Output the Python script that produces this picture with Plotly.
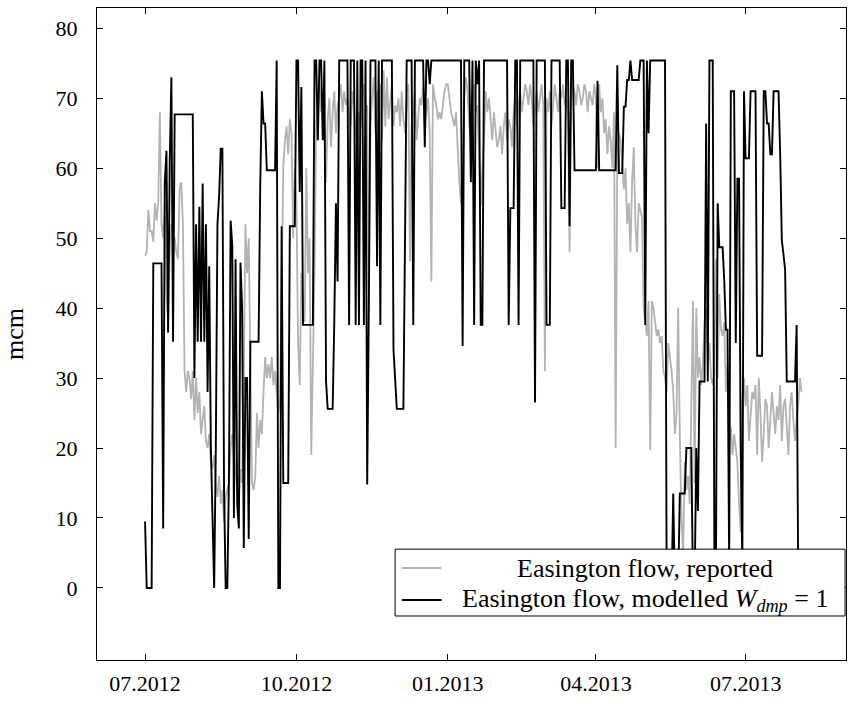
import plotly.graph_objects as go
import pandas as pd

# ---------------- data (daily values, mcm) ----------------
# Easington flow, reported
r_2012_07 = [47.5, 48, 54, 51, 51, 49.5, 55, 52.5, 55, 68, 52, 50, 55, 42, 38, 48, 52, 50, 50, 48, 47, 57, 58, 52, 31, 28, 31, 30, 27, 31, 24]
r_2012_08 = [30, 25, 28, 22, 24, 26, 21, 20, 22, 18, 17, 19, 15, 13, 16, 12, 14, 9.5, 13, 14, 15, 20, 22, 19, 16, 14, 12, 17, 15, 30, 52]
r_2012_09 = [45, 50, 35, 15, 14, 16, 25, 20, 24, 22, 28, 33, 30, 32, 30, 33, 29, 31, 28, 25, 27, 45, 60, 64, 66, 62, 67, 65, 50, 60]
r_2012_10 = [55, 35, 29, 45, 40, 38, 60, 45, 50, 19, 30, 45, 66, 70, 72, 68, 71, 66, 58, 67, 70, 63, 68, 71, 65, 69, 70, 72, 68, 71, 69]
r_2012_11 = [70, 68, 66, 71, 69, 65, 64, 68, 66, 70, 72, 68, 69, 42, 66, 70, 73, 65, 71, 68, 72, 64, 74, 66, 73, 67, 70, 72, 66, 69]
r_2012_12 = [68, 70, 66, 71, 67, 65, 69, 72, 46.7, 66, 68, 71, 64, 67, 70, 69, 72, 66, 68, 70, 65, 43.8, 72, 70, 69, 67, 68, 67, 69, 71, 72]
r_2013_01 = [72, 70, 68, 67, 66, 68, 62, 58, 55, 60, 70, 73, 71, 66, 64, 70, 72, 68, 69, 62, 54.6, 60, 64, 71, 68, 70, 67, 64, 68, 65, 63]
r_2013_02 = [64, 66, 62, 66, 68, 64, 67, 66, 63, 68, 70, 66, 69, 71, 68, 70, 72, 71, 69, 72, 70, 66, 69, 71, 68, 70, 72, 69]
r_2013_03 = [31, 70, 68, 71, 66, 69, 72, 70, 68, 71, 70, 72, 69, 70, 68, 48, 70, 72, 71, 69, 72, 71, 69, 70, 72, 71, 68, 71, 70, 69, 72]
r_2013_04 = [70, 60, 72, 68, 70, 65, 67, 62, 66, 64, 60, 68, 20, 62, 65, 64, 60, 57, 60, 52, 55, 48, 58, 63, 52, 48, 55, 54, 53, 40]
r_2013_05 = [38, 36, 41, 19.7, 41, 40, 38, 36, 37, 35, 36, 31, 30, 28, 35, 33, 31, 28, 22, 25, 40, 22, 10, 5, 18, 14, 16, 12, 25, 41, 15]
r_2013_06 = [40, 30, 33, 29, 32, 38, 40, 32, 35, 30, 29, 31, 47, 30, 42, 37, 36, 38, 28, 32, 20, 23, 19, 22, 20, 18, 12, 8, 27, 30]
r_2013_07 = [26, 29, 21, 24, 28, 27, 29, 19, 30, 25, 18, 22, 27, 26, 20, 24, 28, 25, 22, 26, 24, 29, 21, 26, 27, 23, 19, 26, 28, 24, 21]
r_2013_08 = [24, 26, 30, 28]

# Easington flow, modelled W_dmp = 1
m_2012_07 = [9.5, 0, 0, 0, 0, 46.4, 46.4, 46.4, 46.4, 46.4, 46.4, 8.5, 58, 62.5, 36.5, 61, 73, 35.2, 67.7, 67.7, 67.7, 67.7, 67.7, 67.7, 67.7, 67.7, 67.7, 67.7, 67.7, 67.7, 30]
m_2012_08 = [52, 35.2, 54.5, 35.2, 57.8, 35.2, 52, 28, 46, 20, 8, 0, 20, 52, 56, 62.8, 62.8, 14, 0, 0, 16, 52.5, 49, 10, 47, 12, 8.5, 46.5, 40, 5.7, 30]
m_2012_09 = [30, 7, 35.2, 35.2, 35.2, 35.2, 35.2, 35.2, 57.6, 71, 66.4, 66.4, 59.7, 59.7, 59.7, 59.7, 59.7, 59.7, 75.4, 0, 0, 51.7, 15, 15, 15, 15, 51.7, 51.7, 51.7, 51.7]
m_2012_10 = [75.4, 75.4, 56.6, 71.6, 37.6, 37.6, 37.6, 37.6, 37.6, 37.6, 37.6, 75.4, 75.4, 64, 75.4, 75.4, 64, 75.4, 29.5, 25.6, 25.6, 25.6, 25.6, 38, 55, 43.8, 75.4, 75.4, 75.4, 75.4, 75.4]
m_2012_11 = [75.4, 37.6, 75.4, 75.4, 75.4, 37.6, 75.4, 37.6, 75.4, 75.4, 37.6, 75.4, 14.8, 40, 75.4, 75.4, 75.4, 75.4, 46, 75.4, 37.6, 75.4, 75.4, 75.4, 75.4, 75.4, 75.4, 75.4, 34, 29.5]
m_2012_12 = [25.6, 25.6, 25.6, 25.6, 25.6, 50, 75.4, 75.4, 75.4, 75.4, 37.6, 75.4, 75.4, 75.4, 75.4, 75.4, 75.4, 63, 75.4, 75.4, 72, 75.4, 75.4, 75.4, 75.4, 75.4, 75.4, 75.4, 75.4, 75.4, 75.4]
m_2013_01 = [75.4, 75.4, 75.4, 75.4, 75.4, 75.4, 75.4, 75.4, 75.4, 34.6, 75.4, 75.4, 75.4, 75.4, 58, 75.4, 37.6, 75.4, 72, 75.4, 37.6, 37.6, 75.4, 75.4, 75.4, 75.4, 75.4, 75.4, 75.4, 75.4, 75.4]
m_2013_02 = [75.4, 75.4, 75.4, 75.4, 75.4, 75.4, 37.6, 54.3, 54.3, 54.3, 75.4, 75.4, 37.6, 75.4, 75.4, 75.4, 75.4, 75.4, 75.4, 75.4, 75.4, 75.4, 26.5, 75.4, 75.4, 75.4, 75.4, 75.4]
m_2013_03 = [75.4, 37.6, 37.6, 37.6, 75.4, 75.4, 75.4, 75.4, 75.4, 75.4, 54.3, 54.3, 54.3, 75.4, 75.4, 51.7, 75.4, 75.4, 59.7, 59.7, 59.7, 59.7, 59.7, 59.7, 59.7, 59.7, 59.7, 59.7, 59.7, 59.7, 59.7]
m_2013_04 = [59.7, 72.5, 59.7, 59.7, 59.7, 59.7, 59.7, 59.7, 59.7, 59.7, 59.7, 59.7, 59.7, 74.7, 59.3, 59.3, 59.3, 68.8, 68.8, 72.6, 72.6, 75.4, 72.6, 72.6, 72.6, 72.6, 72.6, 75.4, 75.4, 75.4]
m_2013_05 = [37.6, 75.4, 65, 75.4, 75.4, 75.4, 75.4, 75.4, 75.4, 75.4, 75.4, 75.4, 75.4, 0, 0, 0, 0, 13.5, 0, 0, 0, 13.5, 13.5, 13.5, 13.5, 20, 20, 20, 20, 0, 0]
m_2013_06 = [20, 11, 29.5, 29.5, 29.5, 29.5, 66.4, 29.5, 75.4, 75.4, 75.4, 5, 5, 55, 48.7, 48.7, 48.7, 44, 36.9, 36.9, 3, 71, 71, 71, 35, 58.5, 58.5, 20, 3, 71]
m_2013_07 = [61.4, 61.4, 61.4, 71, 71, 71, 71, 33.2, 33.2, 33.2, 33.2, 71, 71, 66.4, 66.4, 62, 62, 71, 71, 71, 71, 62, 49.7, 47.7, 45.5, 29.5, 29.5, 29.5, 29.5, 29.5, 29.5]
m_2013_08 = [37.6, 0]

start_date = "2012-07-01"
x_range = ["2012-06-01 19:00", "2013-08-31"]
y_range = [-10.3, 82.9]
y_ticks = [0, 10, 20, 30, 40, 50, 60, 70, 80]
x_tick_dates = ["2012-07-01", "2012-10-01", "2013-01-01", "2013-04-01", "2013-07-01"]
x_tick_labels = ["07.2012", "10.2012", "01.2013", "04.2013", "07.2013"]
legend_labels = ["Easington flow, reported",
                 "Easington flow, modelled <i>W</i><sub><i>dmp</i></sub> = 1"]
y_label = "mcm"

reported = (r_2012_07 + r_2012_08 + r_2012_09 + r_2012_10 + r_2012_11 + r_2012_12 +
            r_2013_01 + r_2013_02 + r_2013_03 + r_2013_04 + r_2013_05 + r_2013_06 +
            r_2013_07 + r_2013_08)
modelled = (m_2012_07 + m_2012_08 + m_2012_09 + m_2012_10 + m_2012_11 + m_2012_12 +
            m_2013_01 + m_2013_02 + m_2013_03 + m_2013_04 + m_2013_05 + m_2013_06 +
            m_2013_07 + m_2013_08)

dates_rep = pd.date_range(start_date, periods=len(reported), freq="D")
dates_mod = pd.date_range(start_date, periods=len(modelled), freq="D")

GRAY = "#b3b3b3"
FONT = "Liberation Serif"

fig = go.Figure()
fig.add_trace(go.Scatter(x=dates_rep, y=reported, mode="lines",
                         line=dict(color=GRAY, width=1.8), name=legend_labels[0],
                         showlegend=False))
fig.add_trace(go.Scatter(x=dates_mod, y=modelled, mode="lines",
                         line=dict(color="black", width=1.9), name=legend_labels[1],
                         showlegend=False))

# legend drawn as a box with samples and centred text
lx0, lx1, ly0, ly1 = 0.398, 0.9987, 0.0675, 0.170
rows_y = [0.141, 0.092]
shapes = [dict(type="rect", xref="paper", yref="paper", x0=lx0, x1=lx1, y0=ly0, y1=ly1,
               line=dict(color="black", width=1), fillcolor="white", layer="above")]
annotations = []
for yy, col, txt in zip(rows_y, [GRAY, "black"], legend_labels):
    shapes.append(dict(type="line", xref="paper", yref="paper", x0=0.407, x1=0.460,
                       y0=yy, y1=yy, line=dict(color=col, width=1.9), layer="above"))
    annotations.append(dict(xref="paper", yref="paper", x=0.732, y=yy, text=txt,
                            showarrow=False, xanchor="center", yanchor="middle",
                            font=dict(family=FONT, size=26, color="black")))

fig.update_layout(
    width=861, height=707,
    margin=dict(l=97, r=15, t=8, b=47),
    paper_bgcolor="white", plot_bgcolor="white",
    font=dict(family=FONT, size=22, color="black"),
    shapes=shapes, annotations=annotations,
    showlegend=False,
)
fig.update_xaxes(type="date", range=x_range, tickvals=x_tick_dates, ticktext=x_tick_labels,
                 ticks="inside", ticklen=6, tickcolor="black", showline=True,
                 linecolor="black", linewidth=1, mirror="ticks", showgrid=False,
                 zeroline=False, tickfont=dict(family=FONT, size=22),
                 ticklabelstandoff=4)
fig.update_yaxes(range=y_range, tickvals=y_ticks, ticks="inside", ticklen=6,
                 tickcolor="black", showline=True, linecolor="black", linewidth=1,
                 mirror="ticks", showgrid=False, zeroline=False,
                 tickfont=dict(family=FONT, size=22), ticklabelstandoff=14,
                 title=dict(text=y_label, font=dict(family=FONT, size=26), standoff=24))

fig.write_html("out.html")
